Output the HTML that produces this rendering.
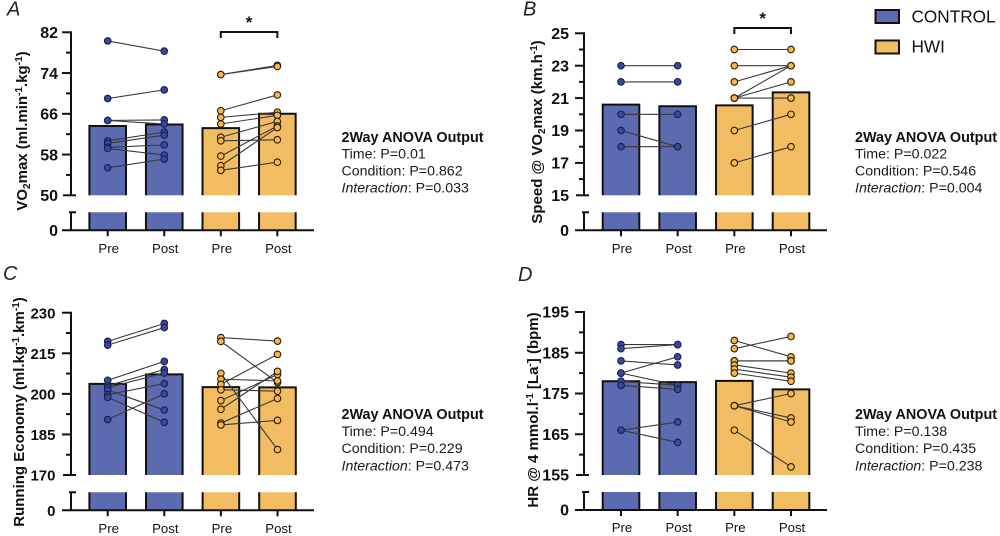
<!DOCTYPE html>
<html lang="en">
<head>
<meta charset="utf-8">
<title>VO2max panels</title>
<style>
html,body{margin:0;padding:0;background:#fff;width:1000px;height:536px;overflow:hidden}
svg{display:block;font-family:"Liberation Sans",sans-serif}
.tl{font-weight:700;font-size:16px;text-anchor:end;fill:#111}
.xl{font-size:13.2px;text-anchor:middle;fill:#111}
.yt{font-weight:700;font-size:15px;text-anchor:middle;fill:#111}
.pl{font-style:italic;font-size:20px;fill:#222}
.an{font-size:14.2px;fill:#1a1a1a}
.anb{font-size:14.4px;font-weight:700;fill:#111}
</style>
</head>
<body>
<svg id="fig" width="1000" height="536" viewBox="0 0 1000 536" xmlns="http://www.w3.org/2000/svg">
  <rect width="1000" height="536" fill="#fff"/>

  <text class="pl" x="7" y="15.5">A</text>
  <text class="pl" x="523" y="15.5">B</text>
  <text class="pl" x="3" y="280">C</text>
  <text class="pl" x="518" y="281">D</text>

  <text class="yt" transform="translate(27,131) rotate(-90)">VO<tspan font-size="10" dy="3">2</tspan><tspan dy="-3">max (ml.min</tspan><tspan font-size="10" dy="-5">-1</tspan><tspan dy="5">.kg</tspan><tspan font-size="10" dy="-5">-1</tspan><tspan dy="5">)</tspan></text>
  <text class="yt" transform="translate(542,132) rotate(-90)">Speed @ VO<tspan font-size="10" dy="3">2</tspan><tspan dy="-3">max (km.h</tspan><tspan font-size="10" dy="-5">-1</tspan><tspan dy="5">)</tspan></text>
  <text class="yt" transform="translate(24,412) rotate(-90)">Running Economy (ml.kg<tspan font-size="10" dy="-5">-1</tspan><tspan dy="5">.km</tspan><tspan font-size="10" dy="-5">-1</tspan><tspan dy="5">)</tspan></text>
  <text class="yt" transform="translate(538,410) rotate(-90)">HR @ 4 mmol.l<tspan font-size="10" dy="-5">-1</tspan><tspan dy="5"> [La</tspan><tspan font-size="10" dy="-5">-</tspan><tspan dy="5">] (bpm)</tspan></text>

  <g>
    <rect x="875.5" y="10" width="23.5" height="13" fill="#5c6bb0" stroke="#111" stroke-width="2"/>
    <text x="911.5" y="22.5" font-size="17.2" fill="#111">CONTROL</text>
    <rect x="875.5" y="40.5" width="23.5" height="13" fill="#f2bc63" stroke="#111" stroke-width="2"/>
    <text x="911.5" y="52.5" font-size="17.2" fill="#111">HWI</text>
  </g>

  <g>
    <text class="anb" x="341.5" y="142">2Way ANOVA Output</text>
    <text class="an" x="341.5" y="158.5">Time: P=0.01</text>
    <text class="an" x="341.5" y="175.5">Condition: P=0.862</text>
    <text class="an" x="341.5" y="192.5"><tspan font-style="italic">Interaction</tspan>: P=0.033</text>
  </g>
  <g>
    <text class="anb" x="855" y="142">2Way ANOVA Output</text>
    <text class="an" x="855" y="158.5">Time: P=0.022</text>
    <text class="an" x="855" y="175.5">Condition: P=0.546</text>
    <text class="an" x="855" y="192.5"><tspan font-style="italic">Interaction</tspan>: P=0.004</text>
  </g>
  <g>
    <text class="anb" x="341.5" y="419">2Way ANOVA Output</text>
    <text class="an" x="341.5" y="436">Time: P=0.494</text>
    <text class="an" x="341.5" y="453">Condition: P=0.229</text>
    <text class="an" x="341.5" y="470.5"><tspan font-style="italic">Interaction</tspan>: P=0.473</text>
  </g>
  <g>
    <text class="anb" x="855" y="419">2Way ANOVA Output</text>
    <text class="an" x="855" y="436">Time: P=0.138</text>
    <text class="an" x="855" y="453">Condition: P=0.435</text>
    <text class="an" x="855" y="470.5"><tspan font-style="italic">Interaction</tspan>: P=0.238</text>
  </g>
</svg>
<script>
const categories = ['Pre', 'Post', 'Pre', 'Post'];

const aTicks = [50, 58, 66, 74, 82];
const aBars = [63.6, 63.9, 63.2, 66];
const aControlPre = [80.3, 69, 64.7, 64.7, 60.7, 60.2, 59.4, 59.2, 55.4];
const aControlPost = [78.3, 70.7, 64.8, 64, 62.4, 61.8, 59.9, 57.9, 57.1];
const aHwiPre = [73.7, 73.7, 66.6, 65.3, 64, 61.4, 60.7, 57.7, 55.8, 54.9];
const aHwiPost = [75.5, 75.3, 69.7, 66.3, 65.7, 64.5, 60.9, 63.6, 63.3, 56.5];

const bTicks = [15, 17, 19, 21, 23, 25];
const bBars = [20.6, 20.5, 20.55, 21.35];
const bControlPre = [23, 22, 20, 19, 18];
const bControlPost = [23, 22, 20, 18, 18];
const bHwiPre = [24, 23, 22, 21, 21, 21, 19, 17];
const bHwiPost = [24, 23, 23, 23, 22, 21, 20, 18];

const cTicks = [170, 185, 200, 215, 230];
const cBars = [203.7, 207.2, 202.5, 202.4];
const cControlPre = [219.4, 218, 205, 203, 202.3, 201.4, 199.7, 198.7, 190.5];
const cControlPost = [226, 224.5, 212, 209, 207.7, 194, 203.8, 189.5, 200];
const cHwiPre = [220.8, 219.4, 207.6, 205.4, 203.5, 201.5, 197.5, 194.3, 189.2, 188.5];
const cHwiPost = [219.5, 204.2, 179.4, 204.8, 214.6, 201, 207.2, 208.3, 198.3, 190.2];

const dTicks = [155, 165, 175, 185, 195];
const dBars = [178, 177.8, 178.1, 176];
const dControlPre = [187, 186, 183, 180, 180, 178, 177, 166, 166];
const dControlPost = [187, 187, 182, 184, 177, 177, 176, 168, 163];
const dHwiPre = [188, 186, 183, 183, 182, 181, 180, 172, 172, 172, 166];
const dHwiPost = [184, 189, 183, 183, 180, 179, 178, 175, 169, 168, 157];

const NS = 'http://www.w3.org/2000/svg';
const fig = document.getElementById('fig');
const BLUE = '#5c6bb0', ORANGE = '#f2bc63';

function mk(tag, attrs, parent) {
  const el = document.createElementNS(NS, tag);
  for (const k in attrs) el.setAttribute(k, attrs[k]);
  parent.appendChild(el);
  return el;
}

function drawPanel(id, layout, ticks, bars, conPre, conPost, hwiPre, hwiPost) {
  const g = mk('g', {}, fig);
  
  

  const min = ticks[0], max = ticks[ticks.length - 1];
  const yScale = v => layout.yMin + (v - min) / (max - min) * (layout.yMax - layout.yMin);
  const xScale = i => layout.x0 + i * layout.step;
  const halfBar = 18.3;

  bars.forEach((v, i) => {
    const cx = xScale(i), l = cx - halfBar, r = cx + halfBar;
    const fill = i < 2 ? BLUE : ORANGE;
    const top = yScale(v);
    const barG = mk('g', {}, g);
    
    
    mk('rect', { x: l, y: top, width: r - l, height: layout.yMin - top, fill: fill }, barG);
    mk('path', { d: 'M' + l + ' ' + layout.yMin + 'V' + top + 'H' + r + 'V' + layout.yMin, fill: 'none', stroke: '#111', 'stroke-width': 2 }, barG);
    mk('rect', { x: l, y: layout.yBreak, width: r - l, height: layout.yZero - layout.yBreak, fill: fill }, barG);
    mk('path', { d: 'M' + l + ' ' + layout.yBreak + 'V' + layout.yZero + 'M' + r + ' ' + layout.yBreak + 'V' + layout.yZero, fill: 'none', stroke: '#111', 'stroke-width': 2 }, barG);
  });

  const axis = mk('g', { stroke: '#111', 'stroke-width': 2, fill: 'none' }, g);
  
  
  const ax = layout.axisX;
  mk('path', { d: 'M' + ax + ' ' + (yScale(max) - 1) + 'V' + yScale(min) }, axis);
  mk('path', { d: 'M' + ax + ' ' + layout.yBreak + 'V' + layout.yZero }, axis);
  mk('path', { d: 'M' + (ax - 9) + ' ' + layout.yZero + 'H' + (ax + 243) }, axis);
  mk('path', { d: 'M' + (ax - 2) + ' ' + layout.yBreak + 'H' + (ax + 5) }, axis);
  mk('path', { d: 'M' + (ax - 8) + ' ' + yScale(min) + 'H' + (ax + 5) }, axis);

  ticks.forEach((t, i) => {
    const y = yScale(t);
    if (i > 0) mk('path', { d: 'M' + (ax - 9) + ' ' + y + 'H' + ax }, axis);
    if (i < ticks.length - 1) {
      const m = yScale((t + ticks[i + 1]) / 2);
      mk('path', { d: 'M' + (ax - 5) + ' ' + m + 'H' + ax }, axis);
    }
    const lab = mk('text', { x: layout.labelX, y: y + 5.7, class: 'tl', style: 'font-size:' + layout.labelSize + 'px' }, g);
    
    
    lab.textContent = t;
  });
  const zero = mk('text', { x: layout.labelX, y: layout.yZero + 5.7, class: 'tl', style: 'font-size:' + layout.labelSize + 'px' }, g);
  
  
  zero.textContent = '0';

  categories.forEach((c, i) => {
    const cx = xScale(i);
    mk('path', { d: 'M' + cx + ' ' + layout.yZero + 'v6' }, axis);
    const lab = mk('text', { x: cx + 1, y: layout.xLabelY, class: 'xl' }, g);
    
    
    lab.textContent = c;
  });

  function series(pre, post, i0, name, fill, stroke) {
    const sg = mk('g', {}, g);
    
    
    pre.forEach((v, k) => {
      const ln = mk('line', { x1: xScale(i0), y1: yScale(v), x2: xScale(i0 + 1), y2: yScale(post[k]), stroke: '#3a3a3a', 'stroke-width': 1.1 }, sg);
      
      
    });
    [[pre, i0], [post, i0 + 1]].forEach(([arr, col]) => {
      arr.forEach(v => {
        const p = mk('circle', { cx: xScale(col), cy: yScale(v), r: 3.3, fill: fill, stroke: stroke, 'stroke-width': 1.1 }, sg);
        
        
      });
    });
  }
  series(conPre, conPost, 0, 'control', '#3a479b', '#1a2050');
  series(hwiPre, hwiPost, 2, 'hwi', '#f5b64c', '#2a1c05');

  if (layout.bracketY) {
    const by = layout.bracketY;
    const br = mk('path', { d: 'M' + xScale(2) + ' ' + (by + 6) + 'V' + by + 'H' + xScale(3) + 'V' + (by + 6), fill: 'none', stroke: '#111', 'stroke-width': 2 }, g);
    
    
    const st = mk('text', { x: (xScale(2) + xScale(3)) / 2, y: by - 4, 'font-size': 17, 'font-weight': 700, 'text-anchor': 'middle', fill: '#111' }, g);
    
    
    st.textContent = '*';
  }
}

drawPanel('a', { axisX: 71, x0: 107.7, step: 56.55, yMin: 195.3, yMax: 32.3, yBreak: 212.3, yZero: 230.3, labelX: 58, labelSize: 16, xLabelY: 253, bracketY: 32 }, aTicks, aBars, aControlPre, aControlPost, aHwiPre, aHwiPost);
drawPanel('b', { axisX: 584, x0: 621, step: 56.67, yMin: 195.3, yMax: 33.3, yBreak: 212.3, yZero: 230.3, labelX: 569, labelSize: 16, xLabelY: 253, bracketY: 28 }, bTicks, bBars, bControlPre, bControlPost, bHwiPre, bHwiPost);
drawPanel('c', { axisX: 71, x0: 107.7, step: 56.6, yMin: 475, yMax: 312.7, yBreak: 492.3, yZero: 510.3, labelX: 55.5, labelSize: 15, xLabelY: 533, bracketY: 0 }, cTicks, cBars, cControlPre, cControlPost, cHwiPre, cHwiPost);
drawPanel('d', { axisX: 584, x0: 621, step: 56.67, yMin: 475, yMax: 312, yBreak: 492, yZero: 510, labelX: 569, labelSize: 16, xLabelY: 532, bracketY: 0 }, dTicks, dBars, dControlPre, dControlPost, dHwiPre, dHwiPost);
</script>
</body>
</html>
